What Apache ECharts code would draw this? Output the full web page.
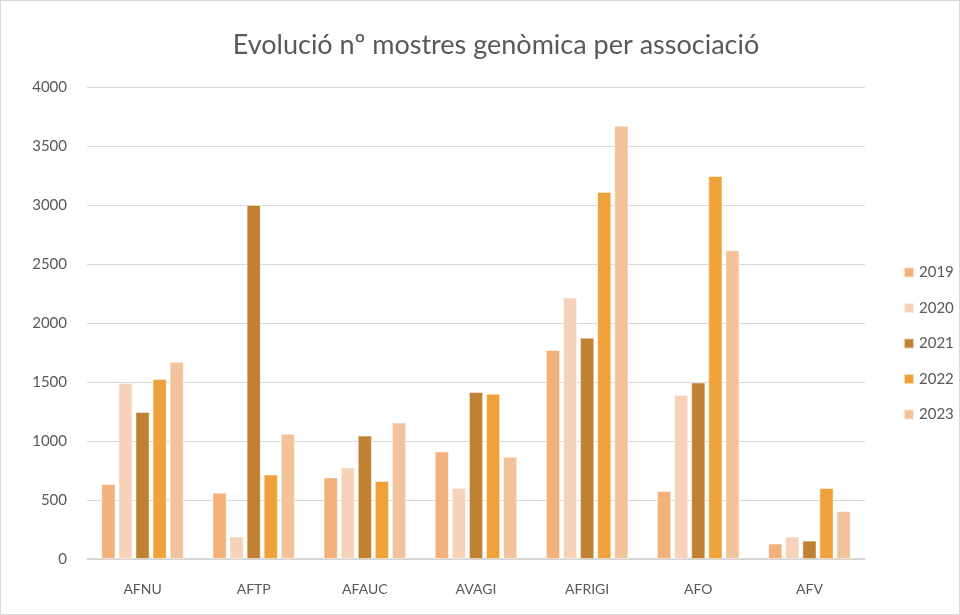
<!DOCTYPE html>
<html><head><meta charset="utf-8">
<script src="https://cdn.jsdelivr.net/npm/echarts@6/dist/echarts.min.js"></script>
<style>html,body{margin:0;padding:0;background:#fff}#c{width:958px;height:613px;border:1px solid #d9d9d9}</style>
</head><body><div id="c"></div>
<script>
const categories = ['AFNU','AFTP','AFAUC','AVAGI','AFRIGI','AFO','AFV'];
const years = ['2019','2020','2021','2022','2023'];
const v2019 = [635, 560, 690, 910, 1770, 575, 130];
const v2020 = [1490, 190, 775, 600, 2215, 1390, 190];
const v2021 = [1245, 3000, 1045, 1415, 1875, 1495, 155];
const v2022 = [1525, 715, 660, 1400, 3110, 3245, 600];
const v2023 = [1670, 1060, 1155, 865, 3670, 2615, 405];
const colors = ['#F2B07B','#F6D3B8','#C08232','#EFA23A','#F2C39B'];
const allVals = [v2019, v2020, v2021, v2022, v2023];
const yTicks = [0,500,1000,1500,2000,2500,3000,3500,4000];

const chart = echarts.init(document.getElementById('c'));
const font = 'Lato, "Open Sans", sans-serif';
chart.setOption({
  animation: false,
  textStyle: {fontFamily: font},
  title: {text: 'Evolució nº mostres genòmica per associació', left: 490, top: 26, textAlign: 'center',
    textStyle: {fontSize: 27, fontWeight: 'normal', color: '#595959', fontFamily: font}},
  legend: {orient: 'vertical', left: 897, top: 259, itemWidth: 10, itemHeight: 10, itemGap: 20.5,
    icon: 'rect', textStyle: {fontSize: 15, color: '#595959', fontFamily: font}, data: years},
  grid: {left: 86, right: 94, top: 86, bottom: 55, containLabel: false},
  xAxis: {type: 'category', data: categories,
    axisLine: {lineStyle: {color: '#d0d0d0', width: 1.5}}, axisTick: {show: false},
    axisLabel: {fontSize: 14, color: '#595959', margin: 23, fontFamily: font}},
  yAxis: {type: 'value', min: 0, max: 4000, interval: 500,
    axisLine: {show: false}, axisTick: {show: false},
    splitLine: {lineStyle: {color: '#d9d9d9', width: 1.2}},
    axisLabel: {fontSize: 15, color: '#595959', margin: 20, fontFamily: font,
      formatter: v => yTicks.includes(v) ? String(v) : ''}},
  series: years.map((y, i) => ({
    name: y, type: 'bar', data: allVals[i], barWidth: 14, barGap: '22%',
    itemStyle: {color: colors[i], borderColor: 'rgba(255,255,255,0.6)', borderWidth: 0.8}
  }))
});
</script></body></html>
